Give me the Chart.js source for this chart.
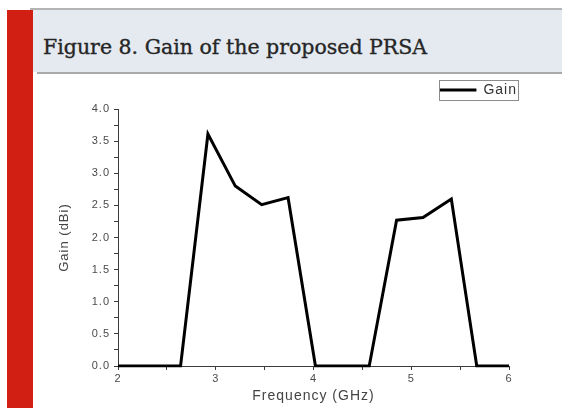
<!DOCTYPE html>
<html>
<head>
<meta charset="utf-8">
<script src="https://cdn.jsdelivr.net/npm/chart.js@4.4.0/dist/chart.umd.min.js"></script>
<style>
  html, body { margin: 0; padding: 0; background: #fff; }
  body { width: 562px; height: 408px; position: relative; overflow: hidden; }
  .band { position: absolute; left: 30px; top: 8px; right: 0; height: 62px;
          background: #e4eaf0; border-top: 2px solid #b4b4b4; }
  .band-rule { position: absolute; left: 37px; top: 72px; right: 0; height: 2px; background: #a9a9a9; }
  .accent { position: absolute; left: 7px; top: 10px; width: 26px; bottom: 0; background: #d21f14; }
  .caption { position: absolute; left: 43px; top: 38px; margin: 0;
             font: 20.5px/19px "DejaVu Serif", serif; color: #262626; white-space: nowrap;
             -webkit-text-stroke: 0.35px #262626; }
  #wrap { position: absolute; left: 0; top: 74px; width: 562px; height: 334px; }
</style>
</head>
<body>
<div class="band"></div>
<div class="band-rule"></div>
<div class="accent"></div>
<p class="caption">Figure 8. Gain of the proposed PRSA</p>
<div id="wrap"><canvas id="gain"></canvas></div>
<script>
// Measured gain of the antenna versus frequency
const freqGHz = [2.0, 2.64, 2.92, 3.20, 3.47, 3.74, 4.02, 4.57, 4.85, 5.12, 5.41, 5.67, 6.0];
const gainDBi = [0.0, 0.0, 3.61, 2.80, 2.51, 2.62, 0.0, 0.0, 2.27, 2.31, 2.60, 0.0, 0.0];
const seriesName = 'Gain';

// Axis ranges and tick steps
const xRange = [2, 6];
const xTickStep = 0.5;
const yRange = [0, 4];
const yTickStep = 0.25;

const points = freqGHz.map((f, i) => ({ x: f, y: gainDBi[i] }));

const TEXT = '#4a4a4a';
const AXIS = '#3a3a3a';
const sans = '"Liberation Sans", Arial, sans-serif';

// Slightly widened lettering, as in the plot's own labels
const wideText = {
  id: 'wideText',
  beforeUpdate(c) { c.ctx.letterSpacing = '1px'; },
  beforeLayout(c) { c.ctx.letterSpacing = '1px'; },
  beforeDraw(c) { c.ctx.letterSpacing = '1px'; }
};

// Thin frame around the legend entry
const legendFrame = {
  id: 'legendFrame',
  afterDraw(c) {
    const hb = c.legend && c.legend.legendHitBoxes && c.legend.legendHitBoxes[0];
    if (!hb) return;
    const ctx = c.ctx;
    ctx.save();
    ctx.strokeStyle = '#8c8c8c';
    ctx.lineWidth = 1;
    const cy = hb.top + hb.height / 2;
    ctx.strokeRect(Math.round(hb.left) + 0.5, Math.round(cy) - 9.5, Math.round(hb.width) + 1, 20);
    ctx.restore();
  }
};

new Chart(document.getElementById('gain'), {
  type: 'line',
  data: {
    datasets: [{
      label: seriesName,
      data: points,
      borderColor: '#000',
      backgroundColor: '#000',
      borderWidth: 3,
      pointRadius: 0,
      tension: 0,
      fill: false
    }]
  },
  options: {
    responsive: true,
    maintainAspectRatio: false,
    animation: false,
    events: [],
    layout: { padding: { left: 0, right: 39, top: 3, bottom: 0 } },
    plugins: {
      tooltip: { enabled: false },
      legend: {
        position: 'top',
        align: 'end',
        labels: {
          usePointStyle: true,
          pointStyle: 'line',
          pointStyleWidth: 37,
          padding: 6,
          color: '#333',
          font: { family: sans, size: 14 }
        }
      }
    },
    scales: {
      x: {
        type: 'linear',
        position: 'bottom',
        min: xRange[0],
        max: xRange[1],
        afterFit(s) { s.height = 42; },
        border: { display: true, color: AXIS, width: 1 },
        grid: { drawOnChartArea: false, drawTicks: true, tickLength: 4, tickColor: AXIS },
        ticks: {
          stepSize: xTickStep,
          autoSkip: false,
          maxRotation: 0,
          padding: 2,
          color: TEXT,
          font: { family: sans, size: 11 },
          callback: v => Number.isInteger(v) ? String(v) : ''
        },
        title: {
          display: true,
          text: 'Frequency (GHz)',
          color: '#444',
          font: { family: sans, size: 14 },
          padding: { top: 0, bottom: 3 }
        }
      },
      xTop: {
        type: 'linear',
        position: 'top',
        display: true,
        afterFit(s) { s.height = 2; },
        border: { display: false },
        grid: { display: false },
        ticks: { display: false }
      },
      yRight: {
        type: 'linear',
        position: 'right',
        display: true,
        afterFit(s) { s.width = 14; },
        border: { display: false },
        grid: { display: false },
        ticks: { display: false }
      },
      y: {
        type: 'linear',
        position: 'left',
        min: yRange[0],
        max: yRange[1],
        afterFit(s) { s.width = 118; },
        border: { display: true, color: AXIS, width: 1 },
        grid: { drawOnChartArea: false, drawTicks: true, tickLength: 4, tickColor: AXIS },
        ticks: {
          stepSize: yTickStep,
          autoSkip: false,
          padding: 4,
          color: TEXT,
          font: { family: sans, size: 11 },
          callback: v => (Math.abs(v * 2 - Math.round(v * 2)) < 1e-9) ? v.toFixed(1) : ''
        },
        title: {
          display: true,
          text: 'Gain (dBi)',
          color: '#444',
          font: { family: sans, size: 13 },
          padding: { top: 57, bottom: 0 }
        }
      }
    }
  },
  plugins: [wideText, legendFrame]
});
</script>
</body>
</html>
